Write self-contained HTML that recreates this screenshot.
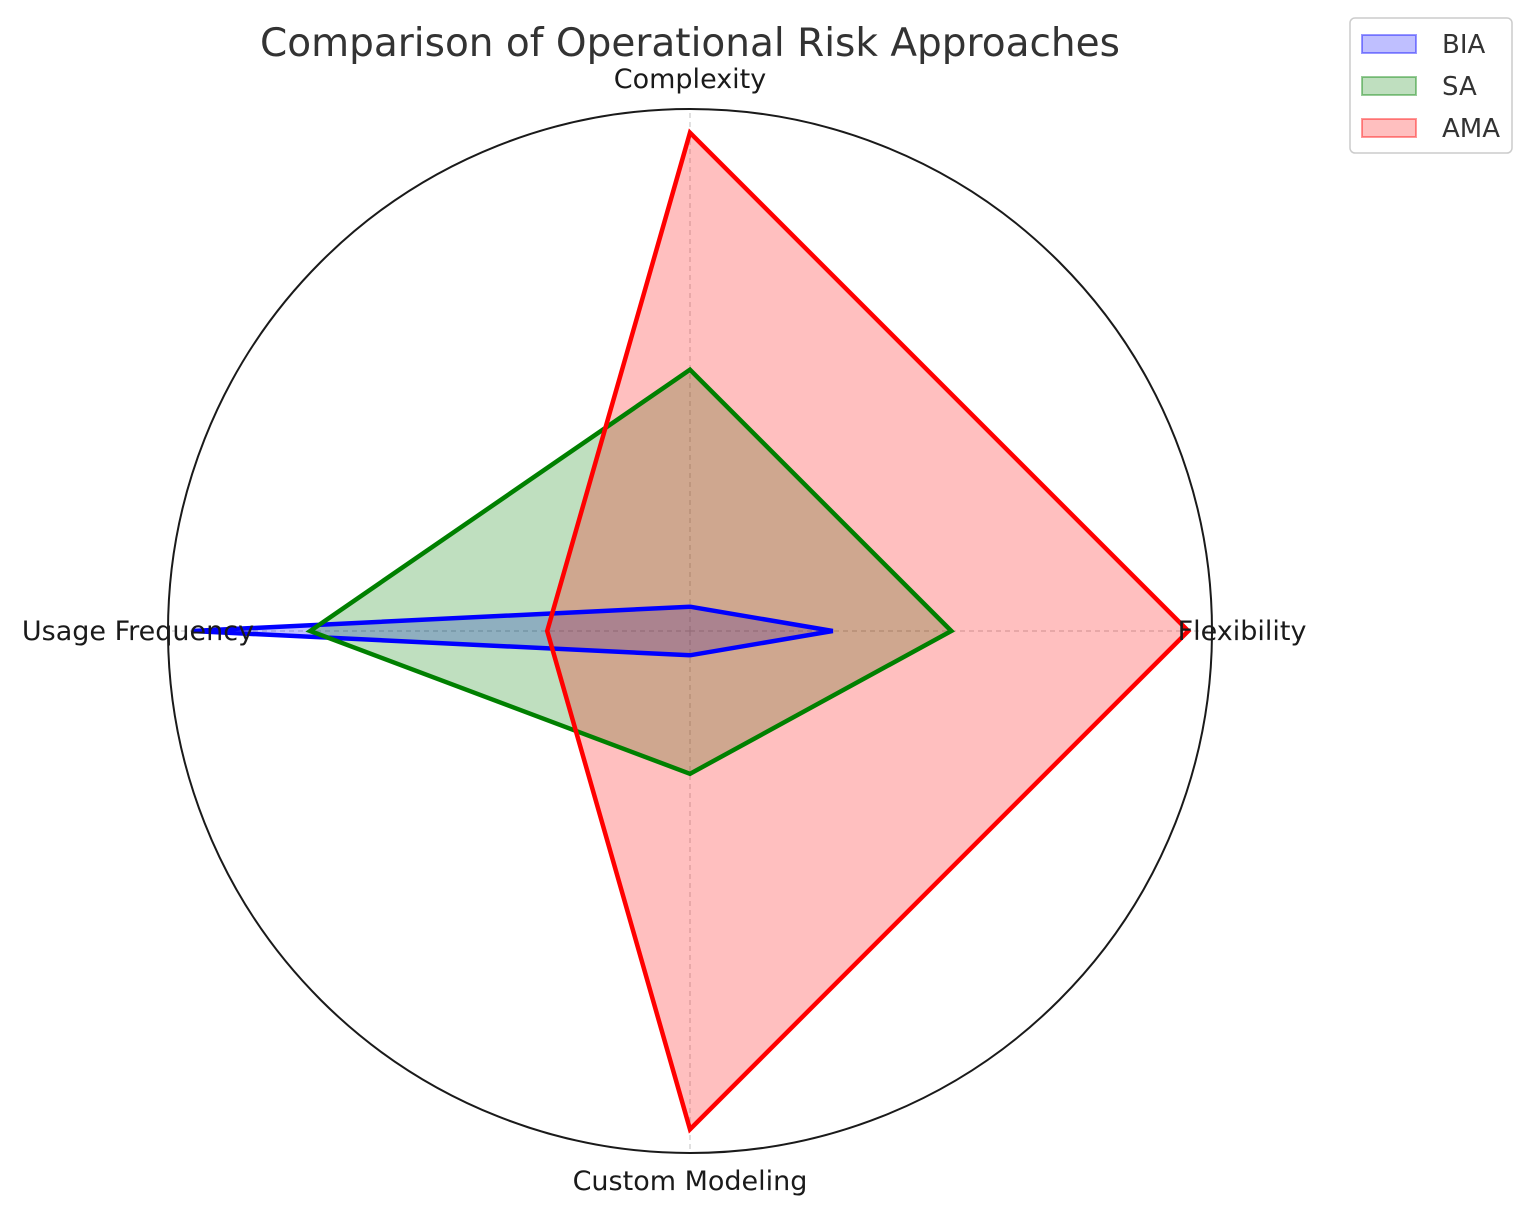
<!DOCTYPE html>
<html><head><meta charset="utf-8"><style>
body{margin:0;background:#fff;}
svg{display:block;font-family:"DejaVu Sans","Liberation Sans",sans-serif;}
</style></head><body>
<svg width="1531" height="1217">
<g id="root"></g>
</svg>
<script>
const categories=["Complexity","Flexibility","Custom Modeling","Usage Frequency"];
const seriesNames=["BIA","SA","AMA"];
const biaValues=[1,3,1,9];
const saValues=[5,5,3,7];
const amaValues=[9,9,9,3];
const colors=["blue","green","red"];
const fills=["rgba(0,0,255,0.25)","rgba(0,128,0,0.25)","rgba(255,0,0,0.25)"];
const cx=690,cy=631,R=522,rMin=0.59,rMax=9.40;
const NS="http://www.w3.org/2000/svg";
const root=document.getElementById('root');
function rScale(v){return (v-rMin)/(rMax-rMin)*R;}
function pt(i,v){const a=i/categories.length*2*Math.PI;const r=rScale(v);return [cx+r*Math.sin(a),cy-r*Math.cos(a)];}
function mk(tag,attrs){const e=document.createElementNS(NS,tag);for(const k in attrs)e.setAttribute(k,attrs[k]);root.appendChild(e);return e;}
categories.forEach((c,i)=>{const a=i/categories.length*2*Math.PI;const l=mk('line',{x1:cx,y1:cy,x2:cx+R*Math.sin(a),y2:cy-R*Math.cos(a),stroke:'#ccc','stroke-width':1.2,'stroke-dasharray':'5,4'});

});
const circ=mk('circle',{cx:cx,cy:cy,r:R,fill:'none',stroke:'#1a1a1a','stroke-width':2});


const all=[biaValues,saValues,amaValues];
all.forEach((vals,s)=>{
 const pts=vals.map((v,i)=>pt(i,v).join(',')).join(' ');
 const f=mk('polygon',{points:pts,fill:fills[s],stroke:'none'});
 
 
});
all.forEach((vals,s)=>{
 const pts=vals.map((v,i)=>pt(i,v).join(',')).join(' ');
 const l=mk('polygon',{points:pts,fill:'none',stroke:colors[s],'stroke-width':4.5,'stroke-linejoin':'miter'});
 
 
});
const labelPos=[[690,88],[1242,640],[690,1190],[138,640]];
categories.forEach((c,i)=>{const t=mk('text',{x:labelPos[i][0],y:labelPos[i][1],'text-anchor':'middle','font-size':27,fill:'#1a1a1a'});t.textContent=c;

});
const title=mk('text',{x:690,y:56,'text-anchor':'middle','font-size':39,fill:'#333'});title.textContent="Comparison of Operational Risk Approaches";


const lb=mk('rect',{x:1350,y:18,width:162,height:135,rx:5,fill:'#fff',stroke:'#ccc','stroke-width':1.5});


seriesNames.forEach((n,s)=>{const y=44+s*42;
 const r=mk('rect',{x:1362,y:y-9,width:54,height:18,fill:fills[s],stroke:colors[s],'stroke-opacity':0.4,'stroke-width':2});
 
 
 const t=mk('text',{x:1442,y:y+9,'font-size':26,fill:'#333'});t.textContent=n;
 
 
});
</script>
</body></html>
